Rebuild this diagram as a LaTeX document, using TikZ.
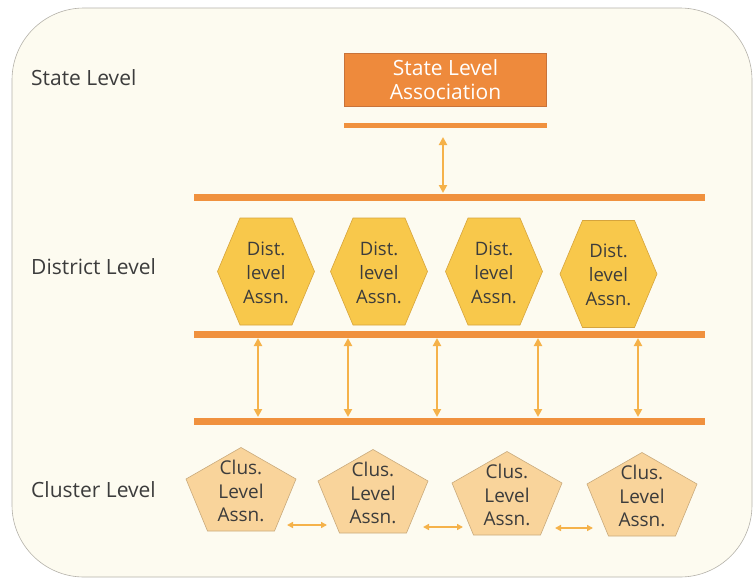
\documentclass[tikz,border=0pt]{standalone}
\usepackage{fontspec}
\setmainfont{Open Sans}
\usetikzlibrary{arrows.meta}
\definecolor{panelbg}{HTML}{FDFBF0}
\definecolor{panelline}{HTML}{B5B2AA}
\definecolor{barcol}{HTML}{F0913E}
\definecolor{statecol}{HTML}{EE8A3C}
\definecolor{stateedge}{HTML}{C8733A}
\definecolor{hexfill}{HTML}{F8C84B}
\definecolor{hexedge}{HTML}{D6A43C}
\definecolor{penfill}{HTML}{F9D49B}
\definecolor{penedge}{HTML}{C9AA7C}
\definecolor{arrcol}{HTML}{F5B24A}
\definecolor{txt}{HTML}{3C3C3C}
\tikzset{
  lvl/.style={anchor=west, inner sep=0pt, text=txt, font=\fontsize{21}{24}\selectfont},
  statebox/.style={fill=statecol, draw=stateedge, line width=0.6pt, minimum width=202pt, minimum height=53pt, text=white, align=center, inner sep=0pt, font=\fontsize{21}{24}\selectfont},
  bar/.style={draw=barcol, line width=7pt},
  thinbar/.style={draw=barcol, line width=5pt},
  hexshape/.style={fill=hexfill, draw=hexedge, line width=0.6pt},
  penshape/.style={fill=penfill, draw=penedge, line width=0.6pt},
  hextext/.style={text=txt, align=center, inner sep=0pt, font=\fontsize{18.5}{24}\selectfont},
  pentext/.style={text=txt, align=center, inner sep=0pt, font=\fontsize{19}{23.5}\selectfont},
  vdbl/.style={draw=arrcol, line width=2pt, {Triangle[length=8pt,width=8pt]}-{Triangle[length=8pt,width=8pt]}},
  hdbl/.style={draw=arrcol, line width=1.6pt, {Triangle[length=6pt,width=6pt]}-{Triangle[length=6pt,width=6pt]}}
}
\begin{document}
\begin{tikzpicture}[x=1pt,y=-1pt]
\useasboundingbox (0,0) rectangle (753,579);
\fill[white] (0,0) rectangle (753,579);
\draw[draw=panelline, fill=panelbg, line width=0.6pt, rounded corners=72pt] (12,8) rectangle (752,577);

% level labels
\node[lvl] (sl) at (31,78) {State Level};
\node[lvl] (dl) at (31,267) {District Level};
\node[lvl] (cl) at (31,490) {Cluster Level};

% state association
\node[statebox] (state) at (445.5,79.5) {State Level\\Association};

% bars
\coordinate (b0l) at (344,125); \coordinate (b0r) at (547,125);
\coordinate (b1l) at (194,197); \coordinate (b1r) at (705,197);
\coordinate (b2l) at (194,334); \coordinate (b2r) at (705,334);
\coordinate (b3l) at (194,421); \coordinate (b3r) at (705,421);
\draw[thinbar] (b0l) -- (b0r);
\draw[bar] (b1l) -- (b1r);
\draw[bar] (b2l) -- (b2r);
\draw[bar] (b3l) -- (b3r);

% state arrow
\coordinate (s1) at (443,137);
\coordinate (s2) at (443,193);
\draw[vdbl] (s1) -- (s2);

% district hexagons
\foreach \x/\y/\n in {266/271.5/1, 379/271.5/2, 494/271.5/3, 608.5/274/4}{
  \draw[hexshape] (\x,\y) +(-48.5,0) -- +(-26,-53.5) -- +(26,-53.5) -- +(48.5,0) -- +(26,53.5) -- +(-26,53.5) -- cycle;
  \node[hextext] (d\n) at (\x,\y+1) {Dist.\\level\\Assn.};
}

% vertical arrows between bars
\foreach \x/\n in {258/1, 348/2, 437/3, 538/4, 638/5}{
  \coordinate (u\n) at (\x,338);
  \coordinate (l\n) at (\x,417);
  \draw[vdbl] (u\n) -- (l\n);
}

% cluster pentagons
\foreach \x/\y/\n in {241/489/1, 373/491/2, 507/493/3, 642/494/4}{
  \draw[penshape] (\x,\y) +(0,-41.5) -- +(55,-10) -- +(33.5,42) -- +(-33.5,42) -- +(-55,-10) -- cycle;
  \node[pentext] (c\n) at (\x,\y+2) {Clus.\\Level\\Assn.};
}

% horizontal arrows between pentagons
\coordinate (h1a) at (287,525); \coordinate (h1b) at (327,525);
\coordinate (h2a) at (423,527); \coordinate (h2b) at (463,527);
\coordinate (h3a) at (555,528); \coordinate (h3b) at (593,528);
\draw[hdbl] (h1a) -- (h1b);
\draw[hdbl] (h2a) -- (h2b);
\draw[hdbl] (h3a) -- (h3b);
\end{tikzpicture}
\end{document}
